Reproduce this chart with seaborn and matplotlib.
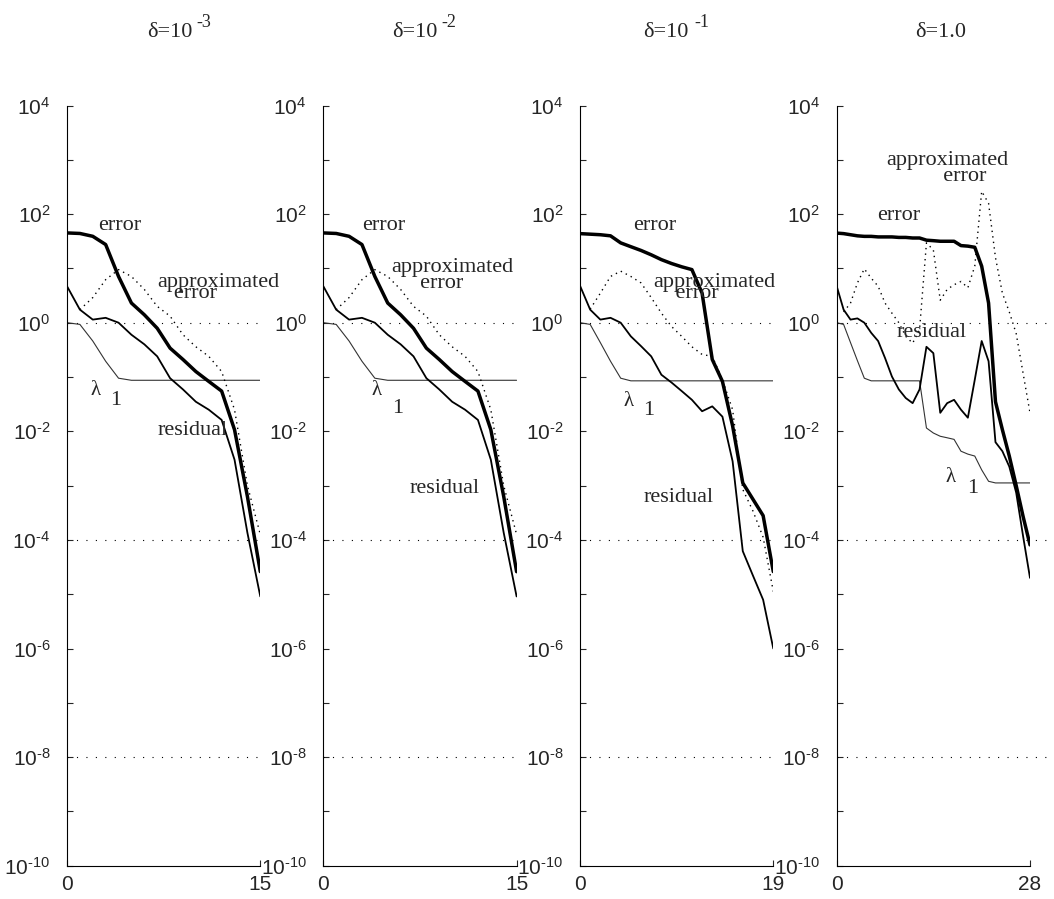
import matplotlib
matplotlib.use("Agg")
import matplotlib.pyplot as plt
import seaborn as sns
import numpy as np

# ---------------- data ----------------
iters1 = list(range(0, 16))
err1 = [45, 44, 39, 27.5, 7.1, 2.3, 1.4, 0.79, 0.34, 0.21, 0.126, 0.083, 0.055, 0.0107, 6.3e-4, 2.6e-5]
res1 = [4.7, 1.74, 1.14, 1.23, 1.0, 0.60, 0.40, 0.24, 0.095, 0.059, 0.035, 0.025, 0.0162, 0.0030, 1.35e-4, 9.1e-6]
lam1 = [1.0, 0.93, 0.46, 0.195, 0.095, 0.087, 0.087, 0.087, 0.087, 0.087, 0.087, 0.087, 0.087, 0.087, 0.087, 0.087]
apx_it1 = list(range(1, 16))
apx1 = [1.74, 2.9, 6.2, 9.5, 7.1, 4.1, 2.0, 1.32, 0.60, 0.36, 0.24, 0.126, 0.025, 1.0e-3, 1.26e-4]

iters2 = list(range(0, 16))
err2 = [45, 44, 39, 27.5, 7.1, 2.3, 1.4, 0.79, 0.34, 0.21, 0.126, 0.083, 0.055, 0.0107, 6.3e-4, 2.6e-5]
res2 = [4.7, 1.74, 1.14, 1.23, 1.0, 0.60, 0.40, 0.24, 0.095, 0.059, 0.035, 0.025, 0.0162, 0.0030, 1.35e-4, 9.1e-6]
lam2 = [1.0, 0.93, 0.46, 0.195, 0.095, 0.087, 0.087, 0.087, 0.087, 0.087, 0.087, 0.087, 0.087, 0.087, 0.087, 0.087]
apx_it2 = list(range(1, 16))
apx2 = [1.74, 2.9, 6.2, 9.5, 7.1, 4.1, 2.0, 1.32, 0.60, 0.36, 0.24, 0.126, 0.025, 1.0e-3, 1.26e-4]

iters3 = list(range(0, 20))
err3 = [43.7, 42.7, 41.7, 39.8, 29.5, 25.1, 21.4, 17.8, 14.5, 12.3, 10.7, 9.5, 3.5, 0.21, 0.083, 0.0126,
        1.12e-3, 5.6e-4, 2.8e-4, 2.6e-5]
res3 = [4.8, 1.74, 1.14, 1.23, 1.0, 0.56, 0.37, 0.24, 0.11, 0.079, 0.055, 0.038, 0.0234, 0.0288, 0.0186,
        2.8e-3, 6.2e-5, 2.2e-5, 7.9e-6, 1.0e-6]
lam3 = [1.0, 0.93, 0.43, 0.195, 0.095, 0.085, 0.085, 0.085, 0.085, 0.085, 0.085, 0.085, 0.085, 0.085,
        0.085, 0.085, 0.085, 0.085, 0.085, 0.085]
apx_it3 = list(range(1, 20))
apx3 = [1.78, 3.5, 7.1, 8.9, 7.1, 5.4, 2.9, 1.5, 0.85, 0.56, 0.36, 0.26, 0.24, 0.089, 0.025, 8.5e-4,
        3.4e-4, 1.12e-4, 1.12e-5]

iters4 = list(range(0, 29))
err4 = [44.7, 43.7, 41.7, 39.8, 38.9, 38.9, 38.0, 38.0, 38.0, 37.2, 37.2, 36.3, 36.3, 33.1, 32.4, 31.6,
        31.6, 31.6, 26.3, 25.7, 24.5, 11.0, 2.3, 0.035, 0.0107, 3.5e-3, 1.0e-3, 2.7e-4, 8.1e-5]
res4 = [4.7, 1.74, 1.14, 1.2, 1.0, 0.65, 0.46, 0.224, 0.102, 0.059, 0.041, 0.033, 0.059, 0.36, 0.275,
        0.0219, 0.033, 0.038, 0.025, 0.0178, 0.089, 0.46, 0.195, 6.3e-3, 4.3e-3, 2.24e-3, 7.4e-4,
        1.17e-4, 2.0e-5]
lam4 = [1.0, 0.93, 0.43, 0.2, 0.095, 0.085, 0.085, 0.085, 0.085, 0.085, 0.085, 0.085, 0.085, 0.0115,
        9.3e-3, 8.1e-3, 7.6e-3, 7.1e-3, 4.3e-3, 3.8e-3, 3.5e-3, 1.95e-3, 1.2e-3, 1.12e-3, 1.12e-3,
        1.12e-3, 1.12e-3, 1.12e-3, 1.12e-3]
apx_it4 = list(range(1, 29))
apx4 = [1.58, 2.3, 5.4, 9.8, 6.6, 4.7, 2.3, 1.5, 1.0, 0.56, 0.42, 0.74, 29.5, 21.9, 2.6, 4.1, 5.0,
        5.75, 4.4, 11.0, 263, 158, 15.8, 3.5, 1.58, 0.63, 0.117, 0.0219]

x_max = [15, 15, 19, 28]
ref_levels = [1e0, 1e-4, 1e-8]
ytick_major = [1e4, 1e2, 1e0, 1e-2, 1e-4, 1e-6, 1e-8, 1e-10]
ytick_minor = [1e3, 1e1, 1e-1, 1e-3, 1e-5, 1e-7, 1e-9]
ytick_labels = [r"$\mathregular{10^{4}}$", r"$\mathregular{10^{2}}$", r"$\mathregular{10^{0}}$",
                r"$\mathregular{10^{\text{-}2}}$", r"$\mathregular{10^{\text{-}4}}$",
                r"$\mathregular{10^{\text{-}6}}$", r"$\mathregular{10^{\text{-}8}}$",
                r"$\mathregular{10^{\text{-}10}}$"]
title_base = ["δ=10", "δ=10", "δ=10", "δ=1.0"]
title_sup = ["-3", "-2", "-1", ""]

# label positions (iteration, value) per panel
labels = [
    [("error", 2.41, 51), ("λ", 1.79, 0.0467), ("1", 3.34, 0.0299), ("residual", 6.99, 8.55e-3)],
    [("error", 2.98, 51), ("λ", 3.75, 0.0467), ("1", 5.31, 0.0215), ("residual", 6.73, 7.2e-4)],
    [("error", 5.22, 51), ("λ", 4.23, 0.0292), ("1", 6.2, 0.020), ("residual", 6.2, 5.05e-4)],
    [("error", 5.79, 77.9), ("residual", 8.69, 0.552), ("λ", 15.69, 1.18e-3), ("1", 18.83, 7.4e-4)],
]
# two-line "approximated / error" label: (x, baseline of the 2nd line, indent of 2nd line, line spacing)
apx_label = [
    (6.99, 2.81, "   ", 0.45),
    (5.31, 4.3, "     ", 0.78),
    (7.19, 2.81, "    ", 0.45),
    (7.24, 412, "          ", 0.76),
]

panels = [
    (iters1, err1, res1, lam1, apx_it1, apx1),
    (iters2, err2, res2, lam2, apx_it2, apx2),
    (iters3, err3, res3, lam3, apx_it3, apx3),
    (iters4, err4, res4, lam4, apx_it4, apx4),
]

# ---------------- style ----------------
sns.set_style("white")
plt.rcParams["font.family"] = ["Liberation Sans", "DejaVu Sans"]
plt.rcParams["mathtext.fontset"] = "custom"
plt.rcParams["mathtext.rm"] = "Liberation Sans"
plt.rcParams["mathtext.it"] = "Liberation Sans:italic"
plt.rcParams["mathtext.bf"] = "Liberation Sans:bold"

W, H = 1054, 899
fig = plt.figure(figsize=(W / 100, H / 100), dpi=100)

ax_left_px = [67, 323.3, 580, 836.7]
ax_w_px = 193.3
ax_top_px, ax_bot_px = 105.5, 865.7
ref_ext = [0.985, 0.985, 0.985, 1.124]
title_base_px = [147, 392, 643, 915]
title_sup_px = [196, 441, 694, None]

serif = ["Liberation Serif", "DejaVu Serif"]

for i, (its, err, res, lam, ait, apx) in enumerate(panels):
    ax = fig.add_axes([ax_left_px[i] / W, 1 - ax_bot_px / H, ax_w_px / W, (ax_bot_px - ax_top_px) / H])
    sns.lineplot(x=its, y=lam, ax=ax, color="#333333", lw=0.8)
    sns.lineplot(x=ait, y=apx, ax=ax, color="black", lw=1.0, linestyle=(0, (1, 3)))
    sns.lineplot(x=its, y=res, ax=ax, color="black", lw=1.3)
    sns.lineplot(x=its, y=err, ax=ax, color="black", lw=2.5)
    for lv in ref_levels:
        ax.axhline(lv, xmin=0, xmax=ref_ext[i], color="black", lw=0.8,
                   linestyle=(0, (1, 7.5)), clip_on=False, zorder=1)
    ax.set_yscale("log")
    ax.set_ylim(1e-10, 1e4)
    ax.set_xlim(0, x_max[i])
    ax.set_yticks(ytick_major)
    ax.set_yticklabels(ytick_labels)
    ax.set_yticks(ytick_minor, minor=True)
    ax.yaxis.set_minor_formatter(matplotlib.ticker.NullFormatter())
    ax.set_xticks([0, x_max[i]])
    ax.set_xticklabels(["0", str(x_max[i])])
    ax.tick_params(axis="y", which="both", direction="in", length=4, width=0.8,
                   labelsize=15, pad=12, left=True)
    ax.tick_params(axis="x", which="both", direction="in", length=4, width=0.8,
                   labelsize=15, pad=7, bottom=True)
    ax.set_xlabel("")
    ax.set_ylabel("")
    for s in ["top", "right"]:
        ax.spines[s].set_visible(False)
    for s in ["left", "bottom"]:
        ax.spines[s].set_linewidth(0.8)
        ax.spines[s].set_color("black")
    ax.patch.set_alpha(0)

    for txt, lx, ly in labels[i]:
        fs = 15 if txt == "λ" else 16
        ax.text(lx, ly, txt, family=serif, fontsize=fs, ha="left", va="baseline", zorder=5)

    ax_x, ax_y, indent, lsp = apx_label[i]
    ax.text(ax_x, ax_y, "approximated\n" + indent + "error", family=serif, fontsize=16,
            ha="left", va="baseline", multialignment="left", linespacing=lsp, zorder=5)

    fig.text(title_base_px[i] / W, 1 - 37 / H, title_base[i], family=serif, fontsize=16,
             ha="left", va="baseline")
    if title_sup[i]:
        fig.text(title_sup_px[i] / W, 1 - 27 / H, title_sup[i], family=serif, fontsize=13,
                 ha="left", va="baseline")

fig.savefig("out.png", dpi=100)
